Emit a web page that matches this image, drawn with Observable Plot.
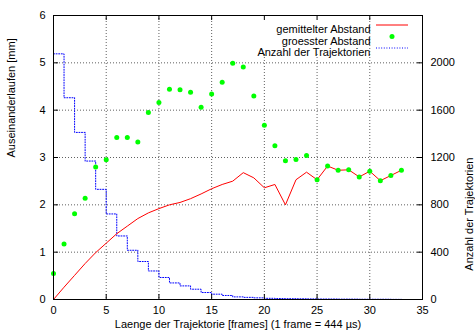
<!DOCTYPE html>
<html><head><meta charset="utf-8">
<script src="https://cdn.jsdelivr.net/npm/d3@7"></script>
<script src="https://cdn.jsdelivr.net/npm/@observablehq/plot@0.6"></script>
<style>
body{margin:0;background:#fff;}
#chart{width:475px;height:336px;}
</style></head><body><div id="chart"></div>
<script>
// ---- data ----
const frames = [0,1,2,3,4,5,6,7,8,9,10,11,12,13,14,15,16,17,18,19,20,21,22,23,24,25,26,27,28,29,30,31,32,33];
const meanDist = [0,0.26,0.51,0.76,0.99,1.19,1.39,1.55,1.71,1.83,1.92,2.00,2.05,2.13,2.23,2.34,2.43,2.50,2.68,2.57,2.36,2.43,2.00,2.53,2.69,2.53,2.82,2.73,2.74,2.59,2.71,2.51,2.62,2.73];
const maxDist = [0.55,1.17,1.81,2.14,2.80,2.95,3.42,3.42,3.33,3.95,4.16,4.44,4.43,4.38,4.06,4.34,4.59,4.99,4.91,4.30,3.68,3.25,2.93,2.96,3.04,2.53,2.82,2.73,2.74,2.59,2.71,2.51,2.62,2.73];
const trajCount = [2076,1705,1412,1170,931,723,537,416,321,241,186,140,115,87,59,45,34,22,18,14,10,8,7,6,5,4,4,3,3,2,2,2,1,1];
const xTicks = [0,5,10,15,20,25,30,35];
const yTicks = [0,1,2,3,4,5,6];
const y2Ticks = [0,400,800,1200,1600,2000];
const y2PerY = 400;
const seriesNames = ["gemittelter Abstand","groesster Abstand","Anzahl der Trajektorien"];
const xLabel = "Laenge der Trajektorie [frames] (1 frame = 444 µs)";
const yLabel = "Auseinanderlaufen [mm]";
const y2Label = "Anzahl der Trajektorien";

const meanRows = frames.map((f,i)=>({x:f, y:meanDist[i]}));
const maxRows = frames.map((f,i)=>({x:f, y:maxDist[i]}));
const countRows = frames.map((f,i)=>({x:f, y:trajCount[i]/y2PerY}));

const W = 475, H = 336, ML = 53, MR = 53, MT = 15, MB = 37;
const plotW = W-ML-MR, plotH = H-MT-MB;
const FONT = "'Liberation Sans', Arial, Helvetica, sans-serif";
const gridStyle = {stroke:"#606060", strokeDasharray:"1,2", strokeWidth:1};

function legendMask(index, scales, values, dims) {
  const right = dims.width - dims.marginRight, top = dims.marginTop;
  const r = d3.create("svg:rect")
    .attr("x", right-183).attr("y", top+1).attr("width", 129).attr("height", 38)
    .attr("fill", "#fff");
  return r.node();
}
function legendSamples(index, scales, values, dims) {
  const right = dims.width - dims.marginRight, top = dims.marginTop;
  const g = d3.create("svg:g");
  g.append("line").attr("x1", right-46).attr("x2", right-14).attr("y1", top+10).attr("y2", top+10)
    .attr("stroke", "#ff0000").attr("stroke-width", 1);
  g.append("circle").attr("cx", right-30).attr("cy", top+21.5).attr("r", 2.5).attr("fill", "#00ff00");
  g.append("line").attr("x1", right-46).attr("x2", right-14).attr("y1", top+33).attr("y2", top+33)
    .attr("stroke", "#0000ff").attr("stroke-width", 1).attr("stroke-dasharray", "1,1.6");
  return g.node();
}

const chart = Plot.plot({
  width: W, height: H,
  marginLeft: ML, marginRight: MR, marginTop: MT, marginBottom: MB,
  style: {fontFamily: FONT, fontSize: "11px", color: "#000", background: "#fff"},
  x: {domain: [0,35], axis: null},
  y: {domain: [0,6], axis: null},
  marks: [
    Plot.ruleX(xTicks.slice(1,-1), {x: d=>d, ...gridStyle}),
    Plot.ruleY(yTicks.slice(1,-1), {y: d=>d, ...gridStyle}),
    legendMask,
    Plot.line(countRows, {x:"x", y:"y", curve:"step-after", stroke:"#0000ff", strokeWidth:1, strokeDasharray:"1,1.6"}),
    Plot.line(meanRows, {x:"x", y:"y", stroke:"#ff0000", strokeWidth:1}),
    Plot.dot(maxRows, {x:"x", y:"y", r:2.5, fill:"#00ff00", stroke:"none"}),
    Plot.frame({stroke:"#000", strokeWidth:1}),
    // inward ticks
    Plot.ruleX(xTicks, {x:d=>d, insetTop: plotH-5, stroke:"#000"}),
    Plot.ruleX(xTicks, {x:d=>d, insetBottom: plotH-5, stroke:"#000"}),
    Plot.ruleY(yTicks, {y:d=>d, insetRight: plotW-5, stroke:"#000"}),
    Plot.ruleY(y2Ticks, {y:d=>d/y2PerY, insetLeft: plotW-5, stroke:"#000"}),
    // tick labels
    Plot.axisX({ticks: xTicks, tickFormat: d=>String(d), tickSize: 0, tickPadding: 7, label: null, fontSize: 11}),
    Plot.axisY({anchor:"left", ticks: yTicks, tickFormat: d=>String(d), tickSize: 0, tickPadding: 8, label: null, fontSize: 11}),
    Plot.axisY({anchor:"right", ticks: y2Ticks.map(v=>v/y2PerY), tickFormat: d=>String(Math.round(d*y2PerY)), tickSize: 0, tickPadding: 8, label: null, fontSize: 11}),
    // axis titles
    Plot.text([xLabel], {text:d=>d, frameAnchor:"bottom", dy: 28, fontSize: 11}),
    Plot.text([yLabel], {text:d=>d, frameAnchor:"left", dx: -42, rotate: -90, fontSize: 11}),
    Plot.text([y2Label], {text:d=>d, frameAnchor:"right", dx: 47, rotate: -90, fontSize: 11}),
    // legend
    legendSamples,
    Plot.text([seriesNames[0]], {text:d=>d, frameAnchor:"top-right", dx:-52, dy:10, textAnchor:"end", fontSize: 11}),
    Plot.text([seriesNames[1]], {text:d=>d, frameAnchor:"top-right", dx:-52, dy:21.5, textAnchor:"end", fontSize: 11}),
    Plot.text([seriesNames[2]], {text:d=>d, frameAnchor:"top-right", dx:-52, dy:33, textAnchor:"end", fontSize: 11})
  ]
});
document.getElementById("chart").appendChild(chart);
</script></body></html>
